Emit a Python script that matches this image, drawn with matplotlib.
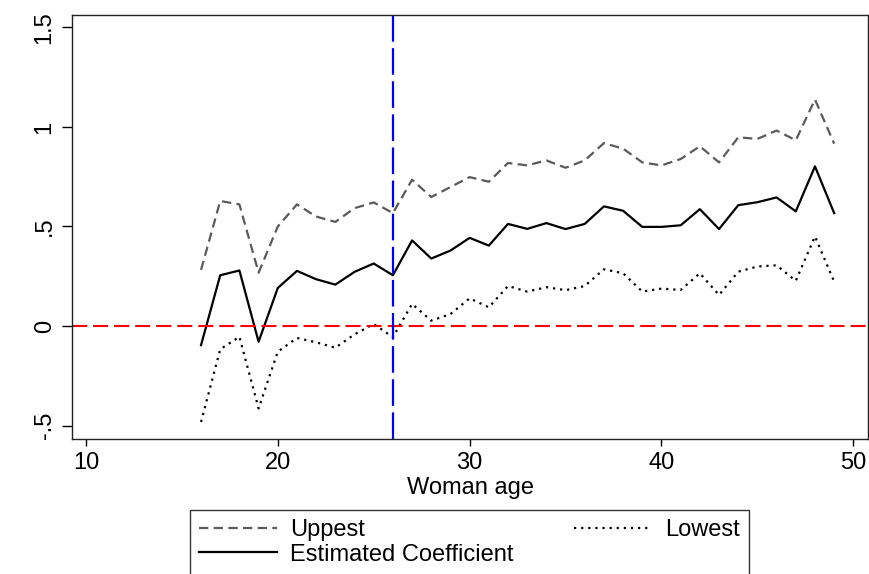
import matplotlib
matplotlib.use("Agg")
import matplotlib.pyplot as plt

plt.rcParams["font.family"] = ["Liberation Sans", "DejaVu Sans"]

ages = list(range(16, 50))
estimated = [-0.096, 0.255, 0.279, -0.079, 0.191, 0.277, 0.235, 0.208, 0.272, 0.314,
             0.255, 0.430, 0.339, 0.379, 0.443, 0.404, 0.513, 0.488, 0.517, 0.487,
             0.513, 0.601, 0.579, 0.498, 0.498, 0.506, 0.587, 0.487, 0.607, 0.622,
             0.646, 0.576, 0.802, 0.567]
uppest = [0.282, 0.628, 0.611, 0.268, 0.500, 0.611, 0.550, 0.523, 0.592, 0.621,
          0.567, 0.735, 0.648, 0.698, 0.748, 0.725, 0.819, 0.807, 0.832, 0.795,
          0.832, 0.919, 0.891, 0.822, 0.807, 0.839, 0.903, 0.822, 0.948, 0.940,
          0.982, 0.933, 1.138, 0.916]
lowest = [-0.482, -0.117, -0.054, -0.414, -0.129, -0.060, -0.082, -0.109, -0.042, 0.010,
          -0.056, 0.111, 0.027, 0.060, 0.139, 0.094, 0.201, 0.173, 0.195, 0.180,
          0.201, 0.285, 0.265, 0.173, 0.188, 0.181, 0.265, 0.156, 0.273, 0.299,
          0.305, 0.227, 0.450, 0.223]

xticks = [10, 20, 30, 40, 50]
yticks = [-0.5, 0, 0.5, 1, 1.5]
ytick_labels = ["-.5", "0", ".5", "1", "1.5"]
cutoff_age = 26

fig = plt.figure(figsize=(8.7, 5.74), dpi=100)
ax = fig.add_axes([0.0831, 0.2347, 0.9143, 0.7397])

l_up, = ax.plot(ages, uppest, color="#5a5a5a", lw=1.6, dashes=(4.2, 2.4), label="Uppest")
l_est, = ax.plot(ages, estimated, color="black", lw=1.6, label="Estimated Coefficient")
l_low, = ax.plot(ages, lowest, color="black", lw=1.6, dashes=(1, 2.2), label="Lowest")
ax.axhline(0, color="red", lw=1.5, dashes=(7.2, 2.9))
ax.axvline(cutoff_age, color="blue", lw=1.6, dashes=(12, 2.9))

ax.set_xlim(9.29, 50.75)
ax.set_ylim(-0.569, 1.564)
ax.set_xticks(xticks)
ax.set_yticks(yticks)
ax.set_yticklabels(ytick_labels, rotation=90, va="center")
ax.tick_params(axis="x", labelsize=17, length=5, width=1, pad=4)
ax.tick_params(axis="y", labelsize=17, length=7, width=1, pad=5)
ax.set_xlabel("Woman age", fontsize=17, labelpad=2)
for s in ax.spines.values():
    s.set_color("#222222")
    s.set_linewidth(1)

leg = fig.legend([l_up, l_est, l_low], ["Uppest", "Estimated Coefficient", "Lowest"],
                 ncol=2, loc="upper left", bbox_to_anchor=(0.2184, 0.012, 0.6425, 0.1),
                 mode="expand", fontsize=17, frameon=True, fancybox=False,
                 edgecolor="black", handlelength=3.3, handletextpad=0.55,
                 borderpad=0.4, labelspacing=0.1, borderaxespad=0)
leg.get_frame().set_linewidth(1)

fig.savefig("out.png", dpi=100)
